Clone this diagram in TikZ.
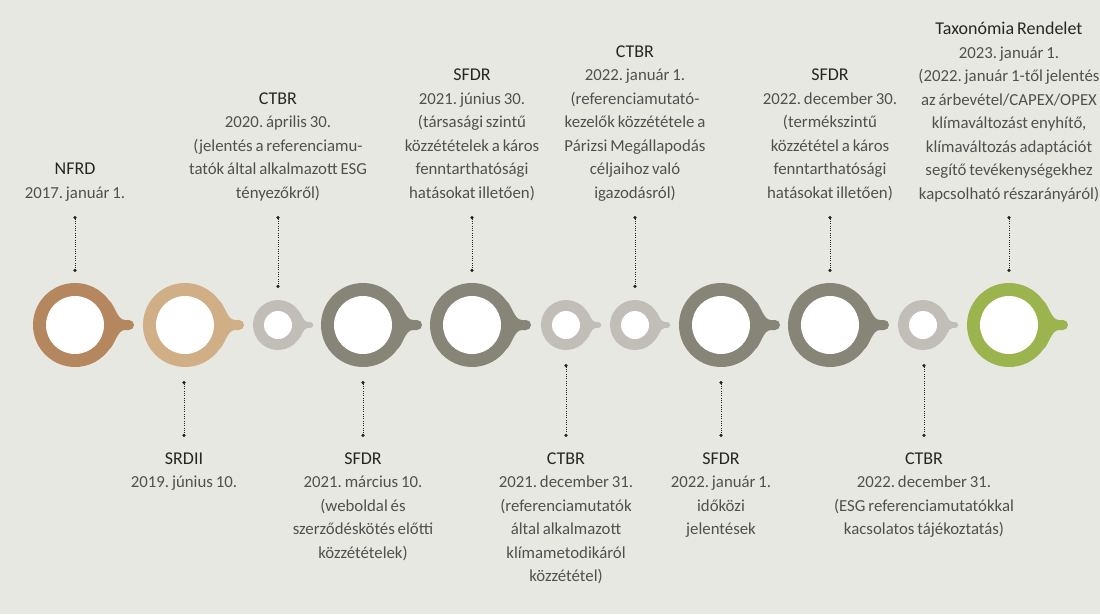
\documentclass[tikz,border=0pt]{standalone}
\usepackage{fontspec}
\setmainfont{Carlito}[WordSpace=0.75]
\usetikzlibrary{arrows.meta}
\definecolor{bg}{HTML}{E8E8E2}
\definecolor{cbrown}{HTML}{B5875F}
\definecolor{ctan}{HTML}{D0AE86}
\definecolor{cdark}{HTML}{878577}
\definecolor{clight}{HTML}{C1BEB7}
\definecolor{cgreen}{HTML}{9CB44D}
\definecolor{bodyc}{HTML}{505050}
\definecolor{titlec}{HTML}{262626}
\newcommand\bub[5]{%
  \pgfmathsetmacro\bsc{#3/42}%
  \fill[#5, shift={(#2,325)}, scale=\bsc] (36:42) .. controls (40,20) and (42,5) .. (50,5) -- (54,5) arc[start angle=90,end angle=-90,radius=5] -- (50,-5) .. controls (42,-5) and (40,-20) .. (-36:42) arc[start angle=-36,end angle=-324,radius=42] -- cycle;
  \node[circle, fill=white, minimum size=2*#4, inner sep=0pt] (#1) at (#2,325) {};
}
\newcommand\ttl[1]{{\color{titlec}\fontsize{18}{23.5}\selectfont #1}}
\begin{document}
\frenchspacing
\begin{tikzpicture}[x=1pt,y=-1pt,
  txt/.style={align=center, inner sep=0pt, text=bodyc, font=\fontsize{16.8}{23.5}\selectfont\frenchspacing},
  conn/.style={draw=black!85, line width=0.8pt, dash pattern=on 0.8pt off 1.5pt, {Circle[length=3.2pt]}-{Circle[length=3.2pt]}}]
\fill[bg] (0,0) rectangle (1100,614);
\useasboundingbox (0,0) rectangle (1100,614);

% bubbles
\bub{c1}{75}{42}{29}{cbrown}
\bub{c2}{185}{42}{29}{ctan}
\bub{c3}{278}{25}{14}{clight}
\bub{c4}{363}{42}{29}{cdark}
\bub{c5}{472}{42}{29}{cdark}
\bub{c6}{566}{25}{14}{clight}
\bub{c7}{635}{25}{14}{clight}
\bub{c8}{721}{42}{29}{cdark}
\bub{c9}{830}{42}{29}{cdark}
\bub{c10}{923}{25}{14}{clight}
\bub{c11}{1009}{42}{29}{cgreen}

% top texts
\node[txt, anchor=north] (t1) at (75,163) {\ttl{NFRD}\\2017. január 1.};
\node[txt, anchor=north] (t3) at (278,92.5) {\ttl{CTBR}\\2020. április 30.\\(jelentés a referenciamu-\\tatók által alkalmazott ESG\\tényezőkről)};
\node[txt, anchor=north] (t5) at (472,69) {\ttl{SFDR}\\2021. június 30.\\(társasági szintű\\közzétételek a káros\\fenntarthatósági\\hatásokat illetően)};
\node[txt, anchor=north] (t7) at (635,45.5) {\ttl{CTBR}\\2022. január 1.\\(referenciamutató-\\kezelők közzététele a\\Párizsi Megállapodás\\céljaihoz való\\igazodásról)};
\node[txt, anchor=north] (t9) at (830,69) {\ttl{SFDR}\\2022. december 30.\\(termékszintű\\közzététel a káros\\fenntarthatósági\\hatásokat illetően)};
\node[txt, anchor=north] (t11) at (1009,22) {\ttl{Taxonómia Rendelet}\\2023. január 1.\\(2022. január 1-től jelentés\\az árbevétel/CAPEX/OPEX\\klímaváltozást enyhítő,\\klímaváltozás adaptációt\\segítő tevékenységekhez\\kapcsolható részarányáról)};

% bottom texts
\node[txt, anchor=north] (b2) at (184,452.5) {\ttl{SRDII}\\2019. június 10.};
\node[txt, anchor=north] (b4) at (363,452.5) {\ttl{SFDR}\\2021. március 10.\\(weboldal és\\szerződéskötés előtti\\közzétételek)};
\node[txt, anchor=north] (b6) at (566,452.5) {\ttl{CTBR}\\2021. december 31.\\(referenciamutatók\\által alkalmazott\\klímametodikáról\\közzététel)};
\node[txt, anchor=north] (b8) at (721,452.5) {\ttl{SFDR}\\2022. január 1.\\időközi\\jelentések};
\node[txt, anchor=north] (b10) at (924,452.5) {\ttl{CTBR}\\2022. december 31.\\(ESG referenciamutatókkal\\kacsolatos tájékoztatás)};

% connector end points
\coordinate (p1a) at (75,216);   \coordinate (p1b) at (75,272);
\coordinate (p3a) at (278,216);  \coordinate (p3b) at (278,288);
\coordinate (p5a) at (472,216);  \coordinate (p5b) at (472,272);
\coordinate (p7a) at (635,216);  \coordinate (p7b) at (635,288);
\coordinate (p9a) at (830,216);  \coordinate (p9b) at (830,272);
\coordinate (p11a) at (1009,216); \coordinate (p11b) at (1009,272);
\coordinate (p2a) at (184,381);  \coordinate (p2b) at (184,437);
\coordinate (p4a) at (363,381);  \coordinate (p4b) at (363,437);
\coordinate (p6a) at (566,364);  \coordinate (p6b) at (566,437);
\coordinate (p8a) at (721,381);  \coordinate (p8b) at (721,437);
\coordinate (p10a) at (924,364); \coordinate (p10b) at (924,437);

\foreach \i in {1,...,11} {\draw[conn] (p\i a) -- (p\i b);}
\end{tikzpicture}
\end{document}
